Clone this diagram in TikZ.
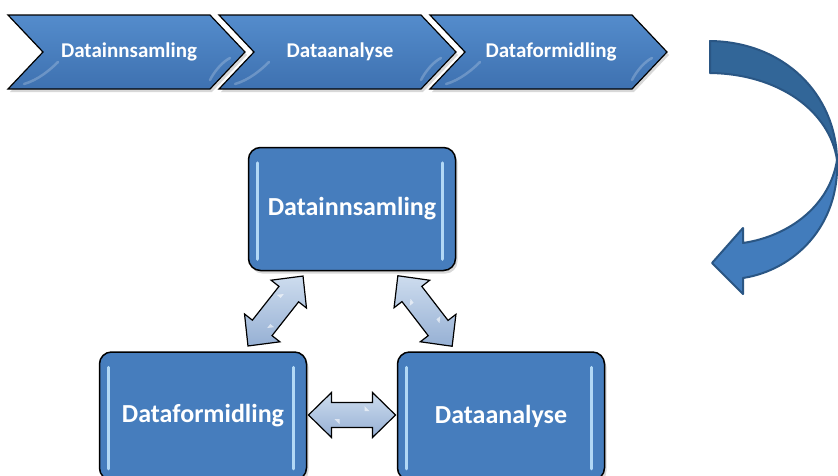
\documentclass[tikz,border=0pt]{standalone}
\usepackage{fontspec}
\setmainfont{Carlito}
\usetikzlibrary{shadows,calc}
\definecolor{boxblue}{RGB}{70,125,189}
\definecolor{boxtop}{RGB}{84,140,204}
\definecolor{boxbot}{RGB}{62,113,176}
\definecolor{hilite}{RGB}{178,216,245}
\definecolor{arrowdark}{RGB}{50,102,152}
\definecolor{arrowlight}{RGB}{66,124,188}
\definecolor{arrowline}{RGB}{42,86,132}
\definecolor{dbltop}{RGB}{205,220,238}
\definecolor{dblbot}{RGB}{150,176,212}
\tikzset{
  chev/.style={draw=black, line width=1.2pt, line join=miter, top color=boxtop, bottom color=boxbot,
    drop shadow={opacity=0.3, shadow xshift=2pt, shadow yshift=-3pt}},
  chevtext/.style={text=white, font=\fontsize{21}{25}\selectfont\bfseries, inner sep=0pt},
  bigbox/.style={draw=black, line width=1.5pt, rounded corners=12pt, fill=boxblue,
    minimum width=207pt, inner sep=0pt,
    text=white, font=\fontsize{26}{30}\selectfont\bfseries,
    drop shadow={opacity=0.3, shadow xshift=2pt, shadow yshift=-3pt}},
  hl/.style={draw=hilite, line width=3pt, line cap=round},
  dbl/.style={draw=black, line width=1.2pt, line join=miter, top color=dbltop, bottom color=dblbot},
  shine/.style={draw=white, opacity=0.22, line width=2.5pt, line cap=round}
}
\newcommand\dblarrow[3]{%
  \begin{scope}[shift={(#1)}, rotate=#2]
    \pgfmathsetmacro\hh{#3/2}
    \path[dbl] (-\hh,0) -- (-\hh+23,-22.5) -- (-\hh+23,-12.5) -- (\hh-23,-12.5) -- (\hh-23,-22.5)
      -- (\hh,0) -- (\hh-23,22.5) -- (\hh-23,12.5) -- (-\hh+23,12.5) -- (-\hh+23,22.5) -- cycle;
    \fill[white, opacity=0.6] (-\hh+26,4) -- (-\hh+31,9) -- (-\hh+31,4) -- cycle;
    \fill[white, opacity=0.6] (\hh-26,-4) -- (\hh-31,-9) -- (\hh-31,-4) -- cycle;
  \end{scope}}
\begin{document}
\begin{tikzpicture}[x=1pt,y=-1pt]
\useasboundingbox (0,0) rectangle (838,475);
\clip (0,0) rectangle (838,475);
\fill[white] (0,0) rectangle (838,475);

% chevrons
\path[chev] (8,15) -- (210,15) -- (245,52) -- (210,89) -- (8,89) -- (43,52) -- cycle;
\path[chev] (219,15) -- (421,15) -- (456,52) -- (421,89) -- (219,89) -- (254,52) -- cycle;
\path[chev] (430,15) -- (632,15) -- (667,52) -- (632,89) -- (430,89) -- (465,52) -- cycle;
\foreach \dx in {0,211,422}{
  \draw[shine] (24+\dx,84) .. controls (38+\dx,80) and (50+\dx,70) .. (58+\dx,62);
  \draw[shine] (210+\dx,80) .. controls (214+\dx,72) and (222+\dx,62) .. (230+\dx,58);
}
\node[chevtext] (c1) at (129,52) {Datainnsamling};
\node[chevtext] (c2) at (340,52) {Dataanalyse};
\node[chevtext] (c3) at (551,52) {Dataformidling};

% curved arrow
\path[fill=arrowdark, draw=arrowline, line width=2pt, line join=round]
  (710,41) .. controls (785,42) and (836,95) .. (837,160)
  .. controls (830,112) and (780,74) .. (710,73) -- cycle;
\path[fill=arrowlight, draw=arrowline, line width=2pt, line join=round]
  (837,160) .. controls (840,225) and (795,270) .. (743,278) -- (743,294) -- (712,263)
  -- (743,228) -- (743,243) .. controls (790,236) and (830,205) .. (837,160) -- cycle;

% boxes
\node[bigbox, minimum height=123pt] (top) at (352,209) {Datainnsamling};
\node[bigbox, minimum height=128pt] (left) at (203,416) {Dataformidling};
\node[bigbox, minimum height=128pt] (right) at (501,416) {Dataanalyse};
\foreach \n in {top,left,right}{
  \draw[hl] ($(\n.north west)+(10,16)$) -- ($(\n.south west)+(10,-12)$);
  \draw[hl] ($(\n.north east)+(-14,16)$) -- ($(\n.south east)+(-14,-12)$);
}

% double arrows
\coordinate (m3) at ($(left.east)!0.5!(right.west)+(0,-1)$);
\dblarrow{m3}{0}{87}
\coordinate (m1) at (275.5,311);
\dblarrow{m1}{51.8}{89}
\coordinate (m2) at (425,311);
\dblarrow{m2}{-52.4}{89}
\end{tikzpicture}
\end{document}
